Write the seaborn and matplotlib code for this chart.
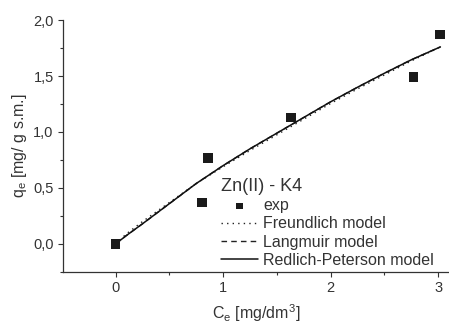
import matplotlib
matplotlib.use("Agg")
import matplotlib.pyplot as plt
import matplotlib.ticker as mticker
import seaborn as sns
import pandas as pd

# experimental data
ce_exp = [0.0, 0.80, 0.86, 1.63, 2.77, 3.02]
qe_exp = [0.0, 0.37, 0.77, 1.13, 1.49, 1.87]

# model curves
ce_model = [0.0, 0.1, 0.25, 0.5, 0.75, 1.0, 1.25, 1.5, 1.75, 2.0, 2.25, 2.5, 2.75, 3.02]
qe_freundlich = [0.0, 0.09, 0.20, 0.37, 0.54, 0.69, 0.835, 0.975, 1.115, 1.255, 1.385, 1.51, 1.635, 1.76]
qe_langmuir = [0.0, 0.075, 0.18, 0.36, 0.54, 0.70, 0.85, 0.99, 1.13, 1.27, 1.40, 1.525, 1.645, 1.76]
qe_rp = [0.0, 0.075, 0.18, 0.36, 0.54, 0.70, 0.85, 0.99, 1.13, 1.27, 1.40, 1.525, 1.645, 1.76]

legend_title = "Zn(II) - K4"
labels = ["exp", "Freundlich model", "Langmuir model", "Redlich-Peterson model"]

sns.set_style("ticks")
plt.rcParams['font.family'] = ['Liberation Sans', 'DejaVu Sans']
plt.rcParams['mathtext.fontset'] = 'custom'
plt.rcParams['mathtext.rm'] = 'Liberation Sans'
plt.rcParams['mathtext.it'] = 'Liberation Sans'

fig = plt.figure(figsize=(4.49, 3.23), dpi=100)
ax = fig.add_axes([0.140, 0.158, 0.86, 0.78])

tc = "#333333"
df_exp = pd.DataFrame({"C": ce_exp, "q": qe_exp})
df_mod = pd.DataFrame({"C": ce_model, "F": qe_freundlich, "L": qe_langmuir, "R": qe_rp})

sns.scatterplot(data=df_exp, x="C", y="q", marker="s", s=50, color="#1a1a1a",
                edgecolor="none", ax=ax, label=labels[0], zorder=3)
sns.lineplot(data=df_mod, x="C", y="F", ax=ax, color="#222222", lw=1.0,
             linestyle=(0, (1, 3)), label=labels[1])
sns.lineplot(data=df_mod, x="C", y="L", ax=ax, color="#222222", lw=1.0,
             linestyle=(0, (4, 3)), label=labels[2])
sns.lineplot(data=df_mod, x="C", y="R", ax=ax, color="#111111", lw=1.1,
             linestyle="-", label=labels[3])

ax.set_xlim(-0.49, 3.1)
ax.set_ylim(-0.25, 2.0)
ax.xaxis.set_major_locator(mticker.FixedLocator([0, 1, 2, 3]))
ax.xaxis.set_minor_locator(mticker.FixedLocator([0.5, 1.5, 2.5]))
ax.yaxis.set_major_locator(mticker.FixedLocator([0.0, 0.5, 1.0, 1.5, 2.0]))
ax.yaxis.set_minor_locator(mticker.FixedLocator([-0.25, 0.25, 0.75, 1.25, 1.75]))
ax.yaxis.set_major_formatter(mticker.FuncFormatter(lambda v, p: f"{v:.1f}".replace(".", ",")))
ax.xaxis.set_major_formatter(mticker.FuncFormatter(lambda v, p: f"{int(v)}"))

for s in ["top", "right"]:
    ax.spines[s].set_visible(False)
for s in ["left", "bottom"]:
    ax.spines[s].set_color(tc)
    ax.spines[s].set_linewidth(0.9)
ax.tick_params(axis="both", which="major", direction="out", length=3.6, width=0.8,
               colors=tc, labelsize=10.5, labelcolor=tc, pad=3)
ax.tick_params(axis="both", which="minor", direction="out", length=2, width=0.8, colors=tc)

ax.set_xlabel("C$_\\mathrm{e}$ [mg/dm$^\\mathrm{3}$]", fontsize=11.5, color=tc, labelpad=5)
ax.set_ylabel("q$_\\mathrm{e}$ [mg/ g s.m.]", fontsize=11.5, color=tc, labelpad=3)

leg = ax.legend(title=legend_title, loc="upper left",
                bbox_to_anchor=(221 / 449, 1 - 178 / 323), bbox_transform=fig.transFigure,
                frameon=False, fontsize=11.5, title_fontsize=13, handlelength=2.3,
                handletextpad=0.35, labelspacing=0.2, borderaxespad=0, borderpad=0,
                alignment="left")
leg.get_title().set_color(tc)
for t in leg.get_texts():
    t.set_color(tc)
leg.legend_handles[0].set_sizes([25])

fig.savefig("out.png", dpi=100)
